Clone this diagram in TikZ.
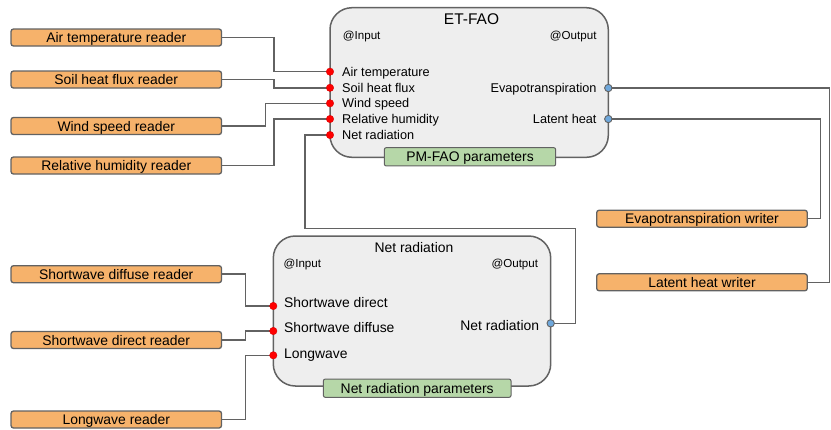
\documentclass[tikz,border=0pt]{standalone}
\usepackage{fontspec}
\setmainfont{Liberation Sans}
\definecolor{edgegray}{HTML}{626262}
\definecolor{modfill}{HTML}{EEEEEE}
\definecolor{readerfill}{HTML}{F6B26B}
\definecolor{paramfill}{HTML}{B6D7A8}
\definecolor{inred}{HTML}{FF0000}
\definecolor{outblue}{HTML}{6FA8DC}
\newcommand{\fsz}[1]{\fontsize{#1}{#1}\selectfont}

\begin{document}
\begin{tikzpicture}[x=1pt,y=-1pt,
  wire/.style={draw=edgegray, line width=1.5pt},
  iobox/.style={draw=edgegray, fill=readerfill, line width=1.3pt, rounded corners=2.5pt,
    minimum width=210.5pt, minimum height=17pt, inner sep=0pt,
    font=\fsz{13.9}, text height=10pt, text depth=0pt},
  module/.style={draw=edgegray, fill=modfill, line width=1.5pt, rounded corners=22pt,
    inner sep=0pt},
  parambox/.style={draw=edgegray, fill=paramfill, line width=1pt, rounded corners=2pt,
    minimum height=18.3pt, inner sep=0pt, font=\fsz{13.9}, text height=10pt, text depth=0pt},
  title/.style={inner sep=0pt, text height=0.716em, text depth=0pt},
  tag/.style={inner sep=0pt, font=\fsz{11.6}, text height=8.3pt, text depth=0pt},
  plabel/.style={inner sep=0pt, font=\fsz{12.7}, text height=9.1pt, text depth=0pt},
  nlabel/.style={inner sep=0pt, font=\fsz{13.9}, text height=10pt, text depth=0pt},
  inport/.style={circle, fill=inred, draw=inred!85!black, line width=0.4pt,
    minimum size=7.4pt, inner sep=0pt},
  outport/.style={circle, fill=outblue, draw=edgegray, line width=0.9pt,
    minimum size=7.4pt, inner sep=0pt}
]
\useasboundingbox (0,0) rectangle (831,429);

% ---------- modules ----------
\node[module, minimum width=278.3pt, minimum height=149.6pt] (etfao) at (469.15,82.5) {};
\node[module, minimum width=277.4pt, minimum height=150pt] (nrmod) at (412,311) {};

% parameter tabs
\node[parambox, minimum width=171.4pt] (pmfao) at (470,156.8) {PM-FAO parameters};
\node[parambox, minimum width=187.7pt] (nrpar) at (417.2,388.2) {Net radiation parameters};

% module titles and section tags
\node[title, font=\fsz{15.5}] (etTitle) at (471.5,20.8) {ET-FAO};
\node[tag, anchor=west] (etIn) at (342.7,35) {@Input};
\node[tag, anchor=east] (etOut) at (596.7,35) {@Output};
\node[title, font=\fsz{13.9}] (nrTitle) at (414,249.3) {Net radiation};
\node[tag, anchor=west] (nrIn) at (283.3,263.3) {@Input};
\node[tag, anchor=east] (nrOut) at (538.3,263.3) {@Output};

% ET-FAO port labels
\node[plabel, anchor=west] (lAir) at (342,71.7) {Air temperature};
\node[plabel, anchor=west] (lSoil) at (342,87.8) {Soil heat flux};
\node[plabel, anchor=west] (lWind) at (342,103.3) {Wind speed};
\node[plabel, anchor=west] (lRh) at (342,119) {Relative humidity};
\node[plabel, anchor=west] (lNet) at (342,135) {Net radiation};
\node[plabel, anchor=east] (lEvap) at (596.7,88) {Evapotranspiration};
\node[plabel, anchor=east] (lLat) at (596.7,119) {Latent heat};

% Net radiation port labels
\node[nlabel, anchor=west] (lSwDir) at (284,302.3) {Shortwave direct};
\node[nlabel, anchor=west] (lSwDif) at (284,327.7) {Shortwave diffuse};
\node[nlabel, anchor=west] (lLw) at (284,353) {Longwave};
\node[nlabel, anchor=east] (lRn) at (539.3,325.8) {Net radiation};

% ---------- readers and writers ----------
\node[iobox] (rAir) at (116.25,37.5) {Air temperature reader};
\node[iobox] (rSoil) at (116.25,79.5) {Soil heat flux reader};
\node[iobox] (rWind) at (116.25,126) {Wind speed reader};
\node[iobox] (rRh) at (116.25,165.5) {Relative humidity reader};
\node[iobox] (rSwDif) at (116.25,274.2) {Shortwave diffuse reader};
\node[iobox] (rSwDir) at (116.25,340) {Shortwave direct reader};
\node[iobox] (rLw) at (116.25,419.5) {Longwave reader};
\node[iobox, minimum width=210.6pt] (wEvap) at (702,218.7) {Evapotranspiration writer};
\node[iobox, minimum width=210.6pt] (wLat) at (702,282.3) {Latent heat writer};

% ---------- ports ----------
\coordinate (pAirC) at (330,71.7);
\coordinate (pSoilC) at (330,87.8);
\coordinate (pWindC) at (330,103.3);
\coordinate (pRhC) at (330,119);
\coordinate (pNetC) at (330,135);
\coordinate (pEvapC) at (608.3,88);
\coordinate (pLatC) at (608.3,119);
\coordinate (pSwDirC) at (273.3,306);
\coordinate (pSwDifC) at (273.3,331);
\coordinate (pLwC) at (273.3,355.3);
\coordinate (pRnC) at (550.7,323.3);

% routing columns
\coordinate (colA) at (274,0);
\coordinate (colW) at (265.7,0);
\coordinate (colS) at (245.3,0);
\coordinate (loopL) at (305,228.7);
\coordinate (loopR) at (575.7,0);
\coordinate (colOuter) at (829.3,0);
\coordinate (colInner) at (820.7,0);

% ---------- connectors ----------
\draw[wire] (rAir.east) -- (rAir.east -| colA) |- (pAirC);
\draw[wire] (rSoil.east) -- (rSoil.east -| colA) |- (pSoilC);
\draw[wire] (rWind.east) -- (rWind.east -| colW) |- (pWindC);
\draw[wire] (rRh.east) -- (rRh.east -| colA) |- (pRhC);
\draw[wire] (pRnC) -- (pRnC -| loopR) |- (loopL) |- (pNetC);
\draw[wire] (pEvapC) -- (pEvapC -| colOuter) |- (wLat.east);
\draw[wire] (pLatC) -- (pLatC -| colInner) |- (wEvap.east);
\draw[wire] (rSwDif.east) -- (rSwDif.east -| colS) |- (pSwDirC);
\draw[wire] (rSwDir.east) -- (rSwDir.east -| colS) |- (pSwDifC);
\draw[wire] (rLw.east) -- (rLw.east -| colS) |- (pLwC);

% port markers on top
\node[inport] (pAir) at (pAirC) {};
\node[inport] (pSoil) at (pSoilC) {};
\node[inport] (pWind) at (pWindC) {};
\node[inport] (pRh) at (pRhC) {};
\node[inport] (pNet) at (pNetC) {};
\node[outport] (pEvap) at (pEvapC) {};
\node[outport] (pLat) at (pLatC) {};
\node[inport] (pSwDir) at (pSwDirC) {};
\node[inport] (pSwDif) at (pSwDifC) {};
\node[inport] (pLw) at (pLwC) {};
\node[outport] (pRn) at (pRnC) {};
\end{tikzpicture}
\end{document}
